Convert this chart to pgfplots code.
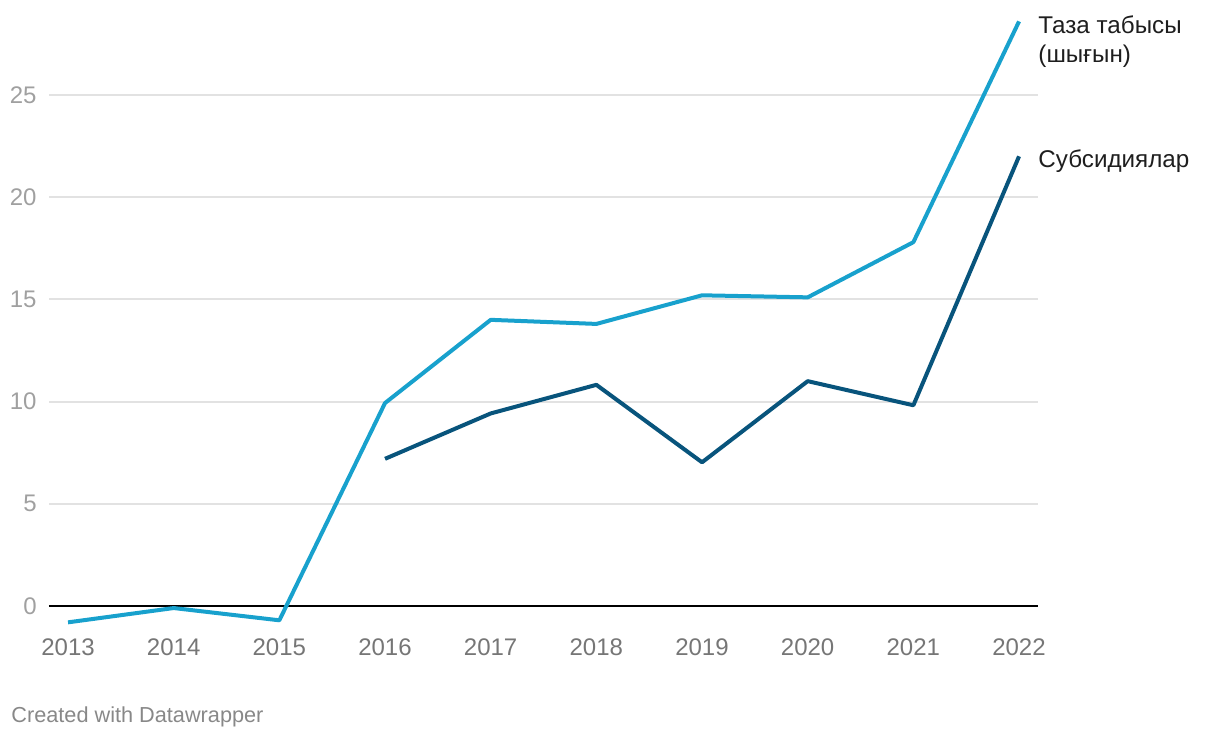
\documentclass[border=0pt]{standalone}
\usepackage{pgfplots}
\pgfplotsset{compat=1.18}
\usepackage{fontspec}
\setmainfont{Liberation Sans}
\definecolor{light}{RGB}{24,161,205}
\definecolor{dark}{RGB}{8,84,124}
\definecolor{gridc}{RGB}{226,226,226}
\definecolor{xlab}{RGB}{118,118,118}
\definecolor{ylab}{RGB}{160,160,160}
\definecolor{lab}{RGB}{30,30,30}
\definecolor{foot}{RGB}{136,136,136}
\begin{document}
\begin{tikzpicture}
\path[use as bounding box] (-24.5pt,-50.67pt) rectangle (585.5pt,318.33pt);
\begin{axis}[
  at={(0,0)}, anchor=south west,
  x=52.835pt, y=10.22pt,
  xmin=2012.82, xmax=2022.18, ymin=-1.5, ymax=28,
  axis line style={draw=none}, clip=false,
  xtick={2013,...,2022}, ytick={5,10,15,20,25},
  major tick length=0pt, tick style={draw=none},
  ymajorgrids, grid style={gridc, line width=1pt},
  /pgf/number format/1000 sep={},
  /pgf/number format/assume math mode=true,
  xticklabel style={anchor=center, inner sep=0pt, yshift=-5.2pt, font=\fontsize{12}{14}\selectfont, text=xlab},
  yticklabel style={anchor=east, inner sep=0pt, xshift=-6pt, font=\fontsize{12}{14}\selectfont, text=ylab},
  extra y ticks={0}, extra y tick style={grid style={black, line width=1pt}},
]
\addplot[light, line width=2pt, line join=round] coordinates {
(2013,-0.8) (2014,-0.1) (2015,-0.7) (2016,9.93) (2017,14.0) (2018,13.8) (2019,15.2) (2020,15.1) (2021,17.8) (2022,28.6)};
\addplot[dark, line width=2pt, line join=round] coordinates {
(2016,7.2) (2017,9.42) (2018,10.82) (2019,7.03) (2020,11.0) (2021,9.82) (2022,22.0)};
\node[anchor=base west, inner sep=0pt, text=lab, font=\fontsize{12.1}{14}\selectfont, xshift=9.5pt, yshift=-6pt] at (axis cs:2022,28.6) {Таза табысы};
\node[anchor=base west, inner sep=0pt, text=lab, font=\fontsize{12.1}{14}\selectfont, xshift=9.5pt, yshift=-20.5pt] at (axis cs:2022,28.6) {(шығын)};
\node[anchor=base west, inner sep=0pt, text=lab, font=\fontsize{12.1}{14}\selectfont, xshift=9.5pt, yshift=-5.5pt] at (axis cs:2022,22.0) {Субсидиялар};
\end{axis}
\node[anchor=base west, inner sep=0pt, text=foot, font=\fontsize{10.85}{12}\selectfont] at (-19pt,-42.67pt) {Created with Datawrapper};
\end{tikzpicture}
\end{document}
